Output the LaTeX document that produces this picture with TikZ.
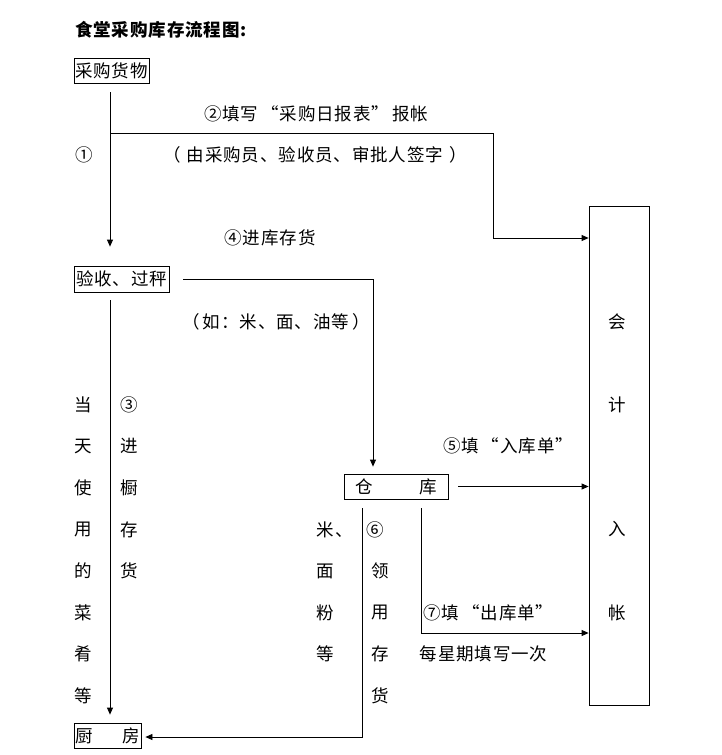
\documentclass[tikz,border=0pt]{standalone}
\usepackage{fontspec}
\usetikzlibrary{arrows.meta}
\newfontfamily\cjk{Noto Sans CJK SC}[LetterSpace=5]
\begin{document}
\begin{tikzpicture}[x=1pt,y=-1pt,
  txt/.style={font=\cjk\fontsize{17.5}{20}\selectfont, inner sep=0pt},
  box/.style={txt, draw, line width=0.8pt},
  arr/.style={line width=0.8pt, -{Triangle[length=7pt,width=6pt]}}]
\useasboundingbox (0,0) rectangle (722,755);
% title
\node[txt, font=\cjk\bfseries\fontsize{17.5}{20}\selectfont, anchor=west] (title) at (75,30.2) {食堂采购库存流程图:};
% boxes
\node[box, minimum width=75pt, minimum height=25pt] (cg) at (111.5,70.5) {采购货物};
\node[box, minimum width=95pt, minimum height=26pt] (ys) at (121.5,279) {验收、过秤};
\node[box, minimum width=104pt, minimum height=25pt] (ck) at (396,486.5) {\makebox[82pt]{仓\hfill 库}};
\node[box, minimum width=67pt, minimum height=25pt] (cf) at (107.5,735.5) {\makebox[65pt]{厨\hfill 房}};
\node[draw, line width=0.8pt, inner sep=0pt, minimum width=60pt, minimum height=499pt] (kj) at (619,455.5) {};
% labels
\node[txt] (l2) at (316,113.4) {②填写\hspace{3pt}“采购日报表”\hspace{3pt}报帐};
\node[txt] (l1) at (84.5,155) {①};
\node[txt] (lsign) at (315,155) {（\hspace{6pt}由采购员、验收员、审批人签字\hspace{6pt}）};
\node[txt] (l4) at (270,238.2) {④进库存货};
\node[txt] (lru) at (276,321.4) {（\hspace{3pt}如：米、面、油等\hspace{3pt}）};
\node[txt] (l5) at (508,446.2) {⑤填\hspace{3pt}“入库单”};
\node[txt] (l7) at (488.5,612.6) {⑦填\hspace{3pt}“出库单”};
\node[txt] (lweek) at (483.5,654.2) {每星期填写一次};
% vertical columns
\foreach \c [count=\i from 0] in {当,天,使,用,的,菜,肴,等}
  \node[txt] (dt\i) at (83.5,{404.6+41.6*\i}) {\c};
\foreach \c [count=\i from 0] in {③,进,橱,存,货}
  \node[txt] (jc\i) at (129,{404.6+41.6*\i}) {\c};
\node[txt, anchor=west] (mm0) at (316.5,529.4) {米、};
\foreach \c [count=\i from 1] in {面,粉,等}
  \node[txt] (mm\i) at (325.5,{529.4+41.6*\i}) {\c};
\node[txt] (ly0) at (375,529.4) {⑥};
\foreach \c [count=\i from 1] in {领,用,存,货}
  \node[txt] (ly\i) at (380,{529.4+41.6*\i}) {\c};
\node[txt] (kj1) at (617.5,321.8) {会};
\node[txt] (kj2) at (617.5,404.6) {计};
\node[txt] (kj3) at (617.5,529.4) {入};
\node[txt] (kj4) at (617.5,612.6) {帐};
% bend points
\coordinate (j1) at (110,133);
\coordinate (b1) at (493,133);
\coordinate (b2) at (493,238);
\coordinate (b3) at (373,279);
\coordinate (b4) at (421,633);
\coordinate (b5) at (362,737);
\coordinate (j2) at (110,300);
% connectors
\draw[arr, shorten <=9pt, shorten >=19pt] (j1 |- cg.south) -- (j1 |- ys.north);
\draw[arr] (j1) -- (b1) -- (b2) -- (b2 -| kj.west);
\draw[arr, shorten <=14pt, shorten >=7pt] (ys.east) -- (b3) -- (b3 |- ck.north);
\draw[arr, shorten <=10pt] (ck.east) -- (ck.east -| kj.west);
\draw[arr, shorten <=9pt] (b4 |- ck.south) -- (b4) -- (b4 -| kj.west);
\draw[arr, shorten <=9pt, shorten >=4pt] (b5 |- ck.south) -- (b5) -- (b5 -| cf.east);
\draw[arr, shorten <=8pt, shorten >=8pt] (j2 |- ys.south) -- (j2 |- cf.north);
\end{tikzpicture}
\end{document}
